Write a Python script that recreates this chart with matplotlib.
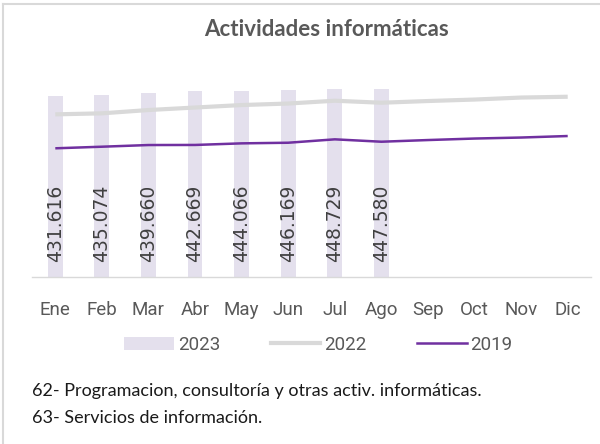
import matplotlib
matplotlib.use("Agg")
import matplotlib.pyplot as plt
from matplotlib.lines import Line2D
from matplotlib.patches import Patch

months = ["Ene", "Feb", "Mar", "Abr", "May", "Jun", "Jul", "Ago", "Sep", "Oct", "Nov", "Dic"]
values_2023 = [431616, 435074, 439660, 442669, 444066, 446169, 448729, 447580]
values_2022 = [388000, 390400, 398300, 404300, 410200, 413800, 420500, 415700, 419800, 423300, 428100, 430000]
values_2019 = [307000, 310800, 314800, 315000, 318800, 320300, 328400, 322700, 326700, 330300, 332700, 336300]

W, H = 600, 444
fig = plt.figure(figsize=(W / 100, H / 100), dpi=100)
fig.patch.set_facecolor("white")

def fx(px):
    return px / W

def fy(py):
    return 1 - py / H

ax_left, ax_right, ax_bottom, ax_top = 32, 591, 277, 67.4
ax = fig.add_axes([fx(ax_left), fy(ax_bottom), fx(ax_right - ax_left), (ax_bottom - ax_top) / H])

x = list(range(len(months)))
ax.bar(x[:len(values_2023)], values_2023, width=0.32, color="#e4e0ed", zorder=1)
ax.plot(x, values_2022, color="#d9d9d9", lw=3.0, solid_capstyle="butt", zorder=2)
ax.plot(x, values_2019, color="#7030a0", lw=1.8, solid_capstyle="butt", zorder=3)

for i, v in enumerate(values_2023):
    ax.annotate(f"{v:,.0f}".replace(",", "."), xy=(i, 0), xytext=(0, 10.5),
                textcoords="offset points", rotation=90, ha="center", va="bottom",
                fontsize=13.5, color="#404040", family="DejaVu Sans", zorder=4)

ax.set_xlim(-0.5, len(months) - 0.5)
ax.set_ylim(0, 500000)
ax.set_xticks(x)
ax.set_xticklabels(months, fontsize=13.5, color="#595959", family="Roboto")
ax.tick_params(axis="x", length=0, pad=17)
ax.set_yticks([])
for s in ["top", "right", "left"]:
    ax.spines[s].set_visible(False)
ax.spines["bottom"].set_color("#d9d9d9")
ax.spines["bottom"].set_linewidth(1.0)

handles = [Patch(facecolor="#e4e0ed", edgecolor="none"),
           Line2D([], [], color="#d9d9d9", lw=3.0),
           Line2D([], [], color="#7030a0", lw=1.8)]
leg = fig.legend(handles, ["2023", "2022", "2019"], loc="center",
                 bbox_to_anchor=(fx(318.5), fy(345)), ncol=3, frameon=False,
                 prop={"family": "Roboto", "size": 13.5}, handlelength=2.65,
                 handleheight=0.75, handletextpad=0.2, columnspacing=2.7, borderpad=0)
for t in leg.get_texts():
    t.set_color("#595959")

fig.text(fx(326), fy(30), "Actividades informáticas", ha="center", va="center",
         fontsize=16, fontweight="bold", color="#595959", family="Lato")

fig.text(fx(32), fy(391), "62- Programacion, consultoría y otras activ. informáticas.",
         ha="left", va="center", fontsize=13, color="#1a1a1a", family="Lato")
fig.text(fx(32), fy(418), "63- Servicios de información.",
         ha="left", va="center", fontsize=13, color="#1a1a1a", family="Lato")

# chart border (top and left visible)
fig.add_artist(Line2D([fx(3), 1], [fy(4.5), fy(4.5)], color="#d9d9d9", lw=1.5))
fig.add_artist(Line2D([fx(3), fx(3)], [fy(4.5), 0], color="#d9d9d9", lw=1.5))

fig.savefig("out.png", dpi=100, facecolor="white")
